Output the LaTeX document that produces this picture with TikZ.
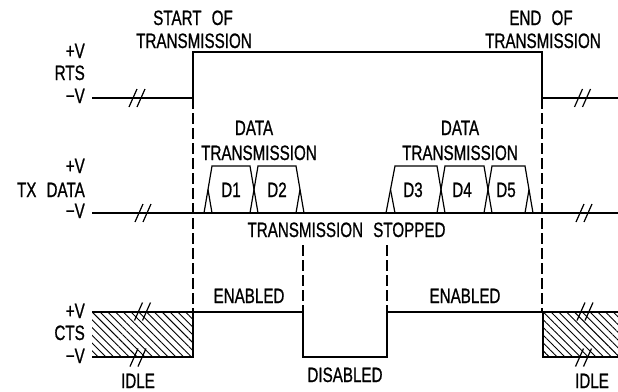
\documentclass[tikz,border=0pt]{standalone}
\usepackage{fontspec}
\setmainfont{Liberation Sans}[FakeStretch=0.73, WordSpace=2.4, FakeBold=0.8]
\usetikzlibrary{patterns.meta}
\newcommand{\lblfont}{\fontsize{20.8}{24}\selectfont}
\newcommand{\brkmark}[2]{%
  \draw[sig] (#1-12,#2+9) -- (#1-4,#2-9);
  \draw[sig] (#1-4,#2+9) -- (#1+4,#2-9);}
\tikzset{
  sig/.style={line width=1.2pt, line join=miter},
  guide/.style={line width=1.1pt, dash pattern=on 11pt off 4pt},
  lbl/.style={font=\lblfont, inner sep=0pt, anchor=base},
  lbll/.style={lbl, anchor=base east},
  hatch/.style={pattern={Lines[angle=-45,distance=5.5pt,line width=0.9pt]}}
}
\begin{document}
\begin{tikzpicture}[x=1pt,y=-1pt]
\useasboundingbox (0,0) rectangle (618,391);
% labels
\node[lbl] (s1) at (193,25) {START OF};
\node[lbl] (s2) at (194,48) {TRANSMISSION};
\node[lbl] (e1) at (541,25) {END OF};
\node[lbl] (e2) at (543,48) {TRANSMISSION};
\node[lbll] (rp) at (85,58) {+V};
\node[lbll] (rn) at (85,80) {RTS};
\node[lbll] (rm) at (85,103) {−V};
\node[lbl] (d1a) at (254,135) {DATA};
\node[lbl] (d1b) at (259,160) {TRANSMISSION};
\node[lbl] (d2a) at (460,135) {DATA};
\node[lbl] (d2b) at (460,160) {TRANSMISSION};
\node[lbll] (tp) at (85,173) {+V};
\node[lbll] (tn) at (85,197) {TX DATA};
\node[lbll] (tm) at (85,218) {−V};
\node[lbl] (ts) at (346.5,237) {TRANSMISSION STOPPED};
\node[lbl] (en1) at (249,303) {ENABLED};
\node[lbl] (en2) at (465,303) {ENABLED};
\node[lbll] (cp) at (85,318) {+V};
\node[lbll] (cn) at (85,340) {CTS};
\node[lbll] (cm) at (85,363) {−V};
\node[lbl] (dis) at (345,382) {DISABLED};
\node[lbl] (idl) at (138,388) {IDLE};
\node[lbl] (idr) at (592,388) {IDLE};
\node[lbl] (nd1) at (231,197) {D1};
\node[lbl] (nd2) at (277,197) {D2};
\node[lbl] (nd3) at (413,197) {D3};
\node[lbl] (nd4) at (462,197) {D4};
\node[lbl] (nd5) at (506,197) {D5};
% hatched idle regions
\fill[hatch] (92,312) rectangle (193,357);
\fill[hatch] (543,312) rectangle (618,357);
% dashed guides
\draw[guide] (193,98) -- (193,312);
\draw[guide] (542,98) -- (542,312);
\draw[guide] (303,245) -- (303,312);
\draw[guide] (387,245) -- (387,312);
% RTS
\draw[sig] (92,98) -- (193,98) -- (193,52) -- (542,52) -- (542,98) -- (618,98);
% TX DATA baseline
\draw[sig] (92,213) -- (618,213);
% group 1
\draw[sig] (204,213) -- (212,166) -- (250,166) -- (258,213);
\draw[sig] (250,213) -- (258,166) -- (296,166) -- (304,213);
\draw[sig] (208,189.5) -- (212,213);
\draw[sig] (296,213) -- (300,189.5);
% group 2
\draw[sig] (386,213) -- (395,166) -- (437,166) -- (445,213);
\draw[sig] (437,213) -- (445,166) -- (484,166) -- (492,213);
\draw[sig] (484,213) -- (492,166) -- (525,166) -- (533,213);
\draw[sig] (390.5,189.5) -- (395,213);
\draw[sig] (525,213) -- (529,189.5);
% CTS
\draw[sig] (92,312) -- (193,312) -- (303,312) -- (303,357) -- (387,357) -- (387,312) -- (543,312) -- (618,312);
\draw[sig] (92,357) -- (193,357) -- (193,312);
\draw[sig] (618,357) -- (543,357) -- (543,312);
% break marks
\brkmark{141}{98}
\brkmark{147}{213}
\brkmark{146.5}{311.5}
\brkmark{142}{357.5}
\brkmark{586.5}{98}
\brkmark{588}{213}
\brkmark{589}{311.5}
\brkmark{587.5}{357.5}
\end{tikzpicture}
\end{document}
